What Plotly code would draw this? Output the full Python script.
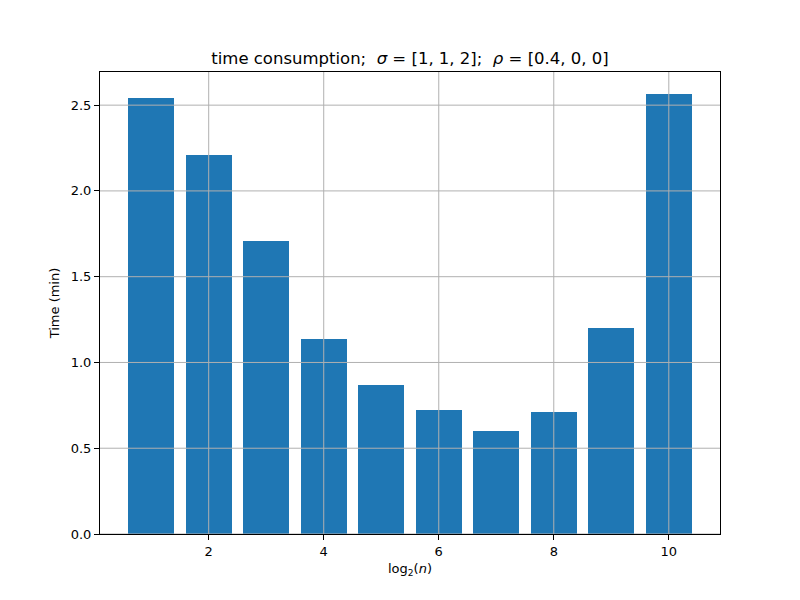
import plotly.graph_objects as go

x_vals = [1, 2, 3, 4, 5, 6, 7, 8, 9, 10]
times = [2.54, 2.21, 1.71, 1.135, 0.868, 0.723, 0.60, 0.711, 1.20, 2.565]
x_ticks = [2, 4, 6, 8, 10]
y_ticks = [0.0, 0.5, 1.0, 1.5, 2.0, 2.5]
y_tick_text = ["0.0", "0.5", "1.0", "1.5", "2.0", "2.5"]

blue = "#1f77b4"
font = "DejaVu Sans"

fig = go.Figure()
fig.add_trace(go.Bar(x=x_vals, y=times, width=0.8, marker=dict(color=blue, line=dict(width=0))))

x_range = [0.11, 10.89]
y_range = [0, max(times) * 1.05]

grid_col = "#b0b0b0"
shapes = []
for xv in x_ticks:
    shapes.append(dict(type="line", xref="x", yref="y", x0=xv, x1=xv, y0=y_range[0], y1=y_range[1],
                       line=dict(color=grid_col, width=1), layer="above"))
for yv in y_ticks:
    shapes.append(dict(type="line", xref="x", yref="y", x0=x_range[0], x1=x_range[1], y0=yv, y1=yv,
                       line=dict(color=grid_col, width=1), layer="above"))

fig.update_layout(
    width=800, height=600,
    paper_bgcolor="white", plot_bgcolor="white",
    margin=dict(l=100, r=80, t=72, b=66),
    font=dict(family=font, size=13, color="black"),
    title=dict(text="time consumption;  <i>σ</i> = [1, 1, 2];  <i>ρ</i> = [0.4, 0, 0]",
               x=0.5125, xanchor="center", y=1 - 58 / 600, yanchor="middle",
               font=dict(family=font, size=16.5, color="black")),
    shapes=shapes,
    showlegend=False,
    bargap=0,
)
fig.update_xaxes(range=x_range, tickvals=x_ticks, ticktext=[str(t) for t in x_ticks],
                 showgrid=False, zeroline=False, showline=True, linecolor="black", linewidth=1,
                 mirror=True, ticks="outside", ticklen=5, tickcolor="black",
                 title=dict(text="log<sub>2</sub>(<i>n</i>)", standoff=6, font=dict(size=13)))
fig.update_yaxes(range=y_range, tickvals=y_ticks, ticktext=y_tick_text,
                 showgrid=False, zeroline=False, showline=True, linecolor="black", linewidth=1,
                 mirror=True, ticks="outside", ticklen=5, tickcolor="black",
                 title=dict(text="Time (min)", standoff=8, font=dict(size=13)))

fig.write_html("out.html")
